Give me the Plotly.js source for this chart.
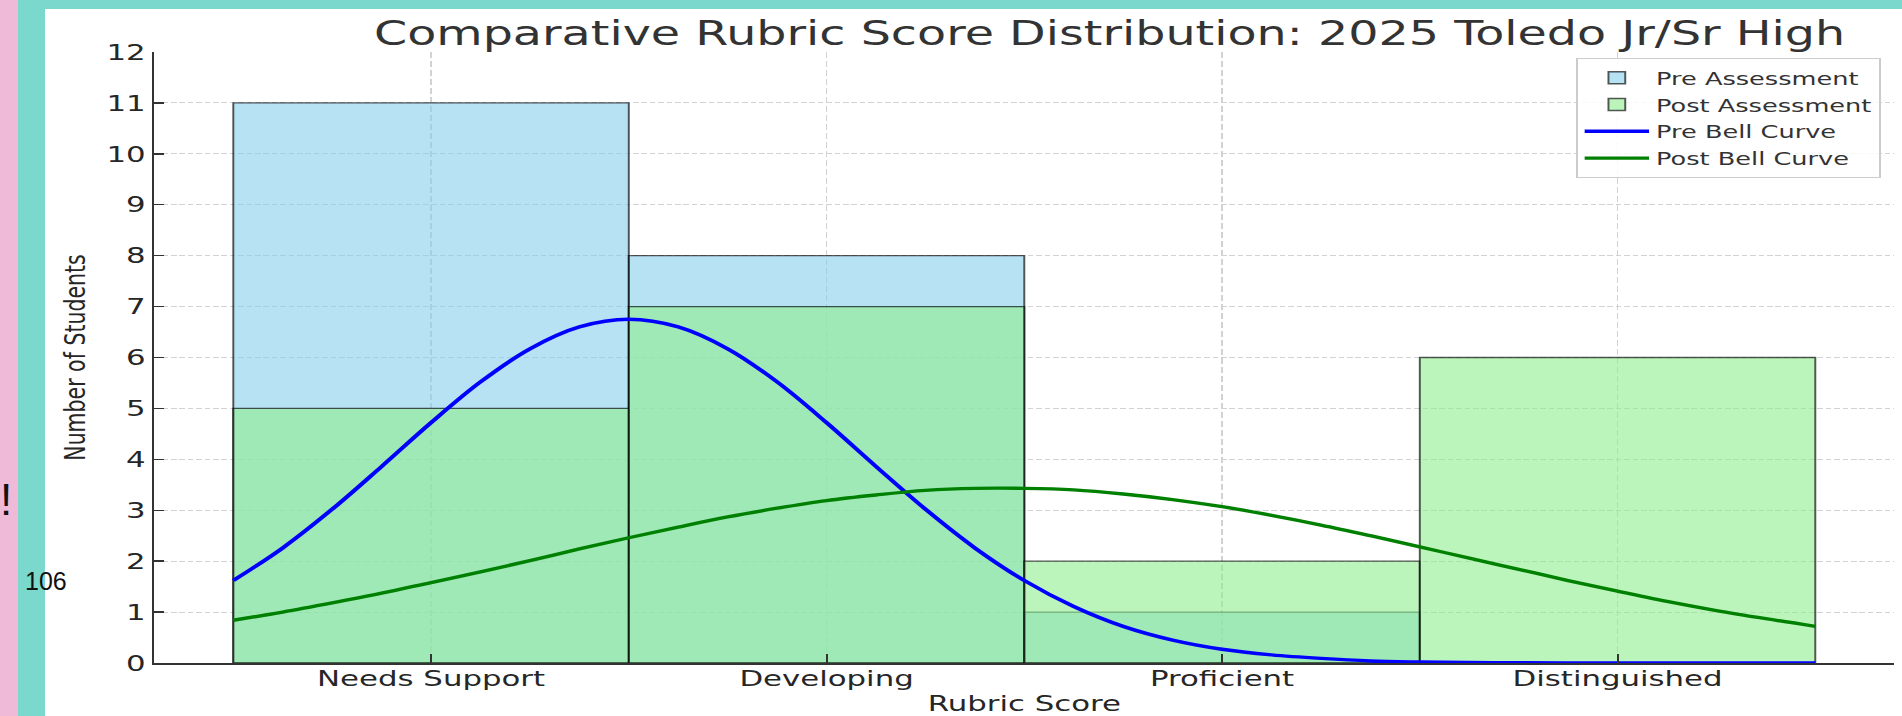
<!DOCTYPE html>
<html>
<head>
<meta charset="utf-8">
<script src="https://cdn.plot.ly/plotly-3.0.1.min.js"></script>
<style>
  html, body { margin: 0; padding: 0; background: #ffffff; overflow: hidden; }
  #page { position: relative; width: 1902px; height: 716px; background: #ffffff; overflow: hidden; }
  #pink { position: absolute; left: 0; top: 0; width: 18px; height: 716px; background: #efbad7; }
  #teal { position: absolute; left: 18px; top: 0; width: 27px; height: 716px; background: #7bd8cc; }
  #tealtop { position: absolute; left: 18px; top: 0; width: 1884px; height: 9px; background: #7bd8cc; }
  #chart { position: absolute; left: 45px; top: 9px; width: 1326px; height: 707px;
           transform: scaleX(1.4); transform-origin: 0 0; }
  #bang { position: absolute; left: 0px; top: 478px; font-family: "Liberation Sans", Arial, sans-serif;
          font-size: 44px; color: #111; line-height: 1; z-index: 5; }
  #pagenum { position: absolute; left: 25px; top: 569px; font-family: "Liberation Sans", Arial, sans-serif;
             font-size: 25px; color: #111; line-height: 1; z-index: 5; }
</style>
</head>
<body>
<div id="page">
  <div id="pink"></div>
  <div id="teal"></div>
  <div id="tealtop"></div>
  <div id="chart"></div>
  <div id="bang">!</div>
  <div id="pagenum">106</div>
</div>
<script>
// ---- data ----
const categories = ["Needs Support", "Developing", "Proficient", "Distinguished"];
const categoryPos = [0, 1, 2, 3];
const preCounts = [11, 8, 1, 0];
const postCounts = [5, 7, 2, 6];

// bell curves, values
const curveX = [-0.5, -0.375, -0.25, -0.125, 0, 0.125, 0.25, 0.375, 0.5, 0.625, 0.75, 0.875,
                1, 1.125, 1.25, 1.375, 1.5, 1.625, 1.75, 1.875, 2, 2.125, 2.25, 2.375,
                2.5, 2.625, 2.75, 2.875, 3, 3.125, 3.25, 3.375, 3.5];
const preCurve = [1.62, 2.26, 3.02, 3.86, 4.72, 5.52, 6.17, 6.60, 6.75, 6.60, 6.17, 5.52,
                  4.72, 3.86, 3.02, 2.26, 1.62, 1.11, 0.72, 0.45, 0.27, 0.16, 0.09, 0.04,
                  0.02, 0.01, 0.005, 0.002, 0.001, 0, 0, 0, 0];
const postCurve = [0.84, 1.00, 1.18, 1.37, 1.58, 1.79, 2.01, 2.24, 2.46, 2.67, 2.87, 3.04,
                   3.19, 3.30, 3.39, 3.43, 3.43, 3.40, 3.32, 3.21, 3.07, 2.90, 2.71, 2.50,
                   2.28, 2.06, 1.84, 1.62, 1.41, 1.21, 1.03, 0.87, 0.72];

const yTicks = [0, 1, 2, 3, 4, 5, 6, 7, 8, 9, 10, 11, 12];

const FONT = "DejaVu Sans, Verdana, sans-serif";

const traces = [
  {
    type: "bar", name: "Pre Assessment", x: categoryPos, y: preCounts, width: 1,
    marker: { color: "rgba(135,206,235,0.6)", line: { color: "rgba(0,0,0,0.65)", width: 1.4 } }
  },
  {
    type: "bar", name: "Post Assessment", x: categoryPos, y: postCounts, width: 1,
    marker: { color: "rgba(144,238,144,0.6)", line: { color: "rgba(0,0,0,0.65)", width: 1.4 } }
  },
  {
    type: "scatter", mode: "lines", name: "Pre Bell Curve", x: curveX, y: preCurve,
    line: { color: "#0000ff", width: 3.4, shape: "spline", smoothing: 1 }
  },
  {
    type: "scatter", mode: "lines", name: "Post Bell Curve", x: curveX, y: postCurve,
    line: { color: "#008000", width: 3.4, shape: "spline", smoothing: 1 }
  }
];

const layout = {
  width: 1326, height: 707,
  margin: { l: 78, r: 5, t: 43, b: 53, pad: 0 },
  paper_bgcolor: "#ffffff", plot_bgcolor: "#ffffff",
  barmode: "overlay", bargap: 0,
  showlegend: true,
  font: { family: FONT, color: "#262626" },
  title: {
    text: "Comparative Rubric Score Distribution: 2025 Toledo Jr/Sr High",
    font: { family: FONT, size: 34, color: "#333333" },
    x: 0.549, xref: "paper", xanchor: "center",
    y: 0.966, yref: "container", yanchor: "middle"
  },
  xaxis: {
    range: [-0.7, 3.7], tickmode: "array", tickvals: categoryPos, ticktext: categories,
    ticks: "inside", ticklen: 9, tickwidth: 1.4, tickcolor: "#333333",
    tickfont: { family: FONT, size: 22, color: "#262626" },
    ticklabelstandoff: -5,
    showline: true, linecolor: "#333333", linewidth: 2, mirror: false,
    showgrid: true, gridcolor: "#d2d2d2", gridwidth: 1, griddash: "6px,3px",
    zeroline: false, automargin: false,
    title: { text: "Rubric Score", font: { family: FONT, size: 22, color: "#262626" }, standoff: 14 }
  },
  yaxis: {
    range: [0, 12], tickmode: "array", tickvals: yTicks,
    ticks: "inside", ticklen: 7, tickwidth: 1.4, tickcolor: "#333333",
    tickfont: { family: FONT, size: 22, color: "#262626" },
    showline: true, linecolor: "#333333", linewidth: 1.7, mirror: false,
    showgrid: true, gridcolor: "#d2d2d2", gridwidth: 1, griddash: "4px,2px",
    zeroline: false, automargin: false,
    title: { text: "Number of Students", font: { family: FONT, size: 20.5, color: "#262626" }, standoff: 9 }
  },
  legend: {
    x: 0.9924, xanchor: "right", y: 0.99, yanchor: "top",
    bgcolor: "rgba(255,255,255,0.85)", bordercolor: "#cccccc", borderwidth: 1.2,
    font: { family: FONT, size: 18.3, color: "#333333" },
    itemwidth: 46, tracegroupgap: 0, traceorder: "normal"
  }
};

Plotly.newPlot("chart", traces, layout, { displayModeBar: false, staticPlot: true, responsive: false });
</script>
</body>
</html>
